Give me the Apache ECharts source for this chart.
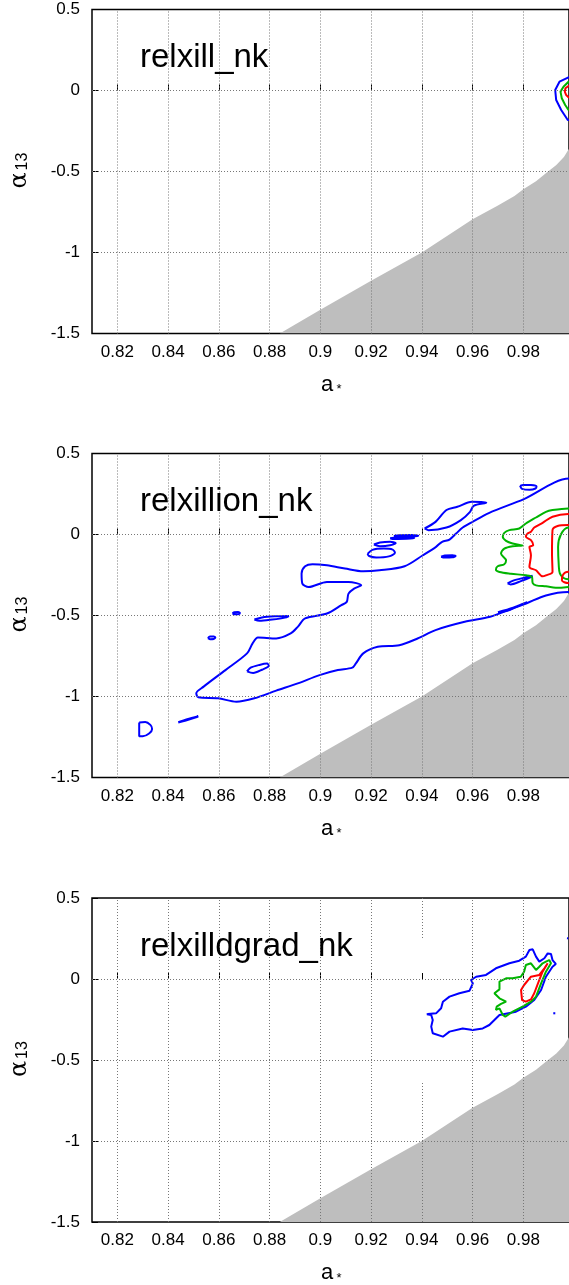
<!DOCTYPE html>
<html><head><meta charset="utf-8">
<script src="https://cdn.jsdelivr.net/npm/echarts@6/dist/echarts.min.js"></script>
<style>html,body{margin:0;padding:0;background:#fff}#c{width:569px;height:1285px}</style>
</head><body><div id="c"></div>
<script>
// ---------- data ----------
const xTicks = [0.82,0.84,0.86,0.88,0.90,0.92,0.94,0.96,0.98];
const yTicks = [-1.5,-1,-0.5,0,0.5];
const yGrid = [-1,-0.5,0];
const panelNames = ['relxill_nk','relxillion_nk','relxilldgrad_nk'];
// excluded region boundary (a*, alpha13)
const boundary = [[0.884,-1.5],[0.90,-1.354],[0.92,-1.175],[0.94,-1.0],[0.96,-0.794],[0.97,-0.71],[0.9765,-0.652],[0.98,-0.61],[0.985,-0.56],[0.989,-0.509],[0.993,-0.46],[0.996,-0.41],[0.998,-0.36]];
// in the third panel the 0.94 grid line is interrupted between these alpha13 values
const p3GridGap = {x: 0.94, from: 0.253, to: -0.642};

// panel 1 contours
const p1Blue  = [[1.003,0.0815],[0.99780,0.0815],[0.99425,0.0543],[0.99256,0.003],[0.99295,-0.059],[0.99492,-0.120],[0.99752,-0.182],[1.003,-0.182]];
const p1Green = [[1.003,0.054],[0.9978,0.054],[0.99583,0.0235],[0.99465,-0.007],[0.99516,-0.048],[0.99650,-0.0895],[0.9978,-0.120],[1.003,-0.12]];
const p1Red   = [[1.003,0.028],[0.9978,0.028],[0.99661,0.0135],[0.99634,-0.007],[0.99689,-0.028],[0.9978,-0.042],[1.003,-0.042]];

// panel 2 contours
const p2Band = [[1.003,0.345],[0.998,0.345],[0.980,0.217],[0.9666,0.134],[0.960,0.0785],[0.9561,0.043],[0.9535,0.006],[0.9509,-0.031],[0.948,-0.045],[0.9456,-0.076],[0.9404,-0.128],[0.9332,-0.196],[0.9233,-0.221],[0.9169,-0.227],[0.9097,-0.210],[0.9026,-0.190],[0.8969,-0.183],[0.894,-0.196],[0.8926,-0.241],[0.8929,-0.303],[0.8954,-0.324],[0.9026,-0.293],[0.9111,-0.293],[0.9161,-0.313],[0.9133,-0.334],[0.9111,-0.365],[0.9104,-0.416],[0.9083,-0.436],[0.9026,-0.488],[0.894,-0.518],[0.8911,-0.570],[0.8883,-0.611],[0.8826,-0.642],[0.8754,-0.636],[0.8733,-0.672],[0.8711,-0.734],[0.8626,-0.837],[0.854,-0.939],[0.8511,-0.980],[0.8519,-1.005],[0.8597,-1.011],[0.8669,-1.032],[0.874,-1.011],[0.8826,-0.964],[0.8911,-0.919],[0.8997,-0.868],[0.9069,-0.837],[0.9126,-0.822],[0.914,-0.796],[0.9169,-0.734],[0.9226,-0.693],[0.9311,-0.683],[0.9383,-0.642],[0.9454,-0.590],[0.9569,-0.539],[0.9669,-0.508],[0.974,-0.467],[0.9811,-0.426],[0.9889,-0.376],[0.9977,-0.355],[1.003,-0.355]];
const p2Isl1 = [[0.9787,0.300],[0.9800,0.306],[0.9830,0.305],[0.9852,0.296],[0.9848,0.284],[0.9825,0.276],[0.9795,0.282],[0.9787,0.300]];
const p2Isl2 = [[0.9411,0.037],[0.9454,0.078],[0.9497,0.151],[0.954,0.171],[0.9597,0.202],[0.9654,0.196],[0.9604,0.177],[0.959,0.140],[0.9554,0.089],[0.9497,0.043],[0.9426,0.027],[0.9411,0.037]];
const p2IslA1 = [[0.929,-0.009],[0.931,-0.004],[0.936,-0.003],[0.9386,-0.008],[0.936,-0.013],[0.931,-0.014],[0.929,-0.009]];
const p2IslA2 = [[0.9275,-0.023],[0.930,-0.018],[0.935,-0.017],[0.937,-0.022],[0.934,-0.027],[0.929,-0.028],[0.9275,-0.023]];
const p2IslB = [[0.9211,-0.062],[0.9235,-0.050],[0.9275,-0.045],[0.9297,-0.052],[0.9275,-0.066],[0.9235,-0.072],[0.9211,-0.062]];
const p2IslC = [[0.9186,-0.120],[0.9205,-0.095],[0.925,-0.087],[0.9285,-0.093],[0.9294,-0.112],[0.927,-0.135],[0.922,-0.142],[0.9192,-0.133],[0.9186,-0.120]];
const p2IslD = [[0.9476,-0.137],[0.949,-0.129],[0.952,-0.128],[0.9533,-0.133],[0.952,-0.141],[0.949,-0.142],[0.9476,-0.137]];
const p2IslE = [[0.9738,-0.302],[0.9760,-0.285],[0.9800,-0.268],[0.9836,-0.255],[0.9828,-0.265],[0.9790,-0.288],[0.9750,-0.308],[0.9738,-0.302]];
const p2IslF = [[0.8654,-0.487],[0.866,-0.480],[0.8676,-0.479],[0.8683,-0.485],[0.8676,-0.492],[0.866,-0.493],[0.8654,-0.487]];
const p2IslG = [[0.874,-0.525],[0.877,-0.512],[0.882,-0.505],[0.8876,-0.503],[0.886,-0.513],[0.881,-0.525],[0.876,-0.533],[0.874,-0.525]];
const p2IslH = [[0.8557,-0.640],[0.8565,-0.630],[0.858,-0.630],[0.8586,-0.636],[0.858,-0.645],[0.8565,-0.646],[0.8557,-0.640]];
const p2IslI = [[0.8711,-0.845],[0.8725,-0.822],[0.876,-0.805],[0.879,-0.797],[0.8797,-0.810],[0.877,-0.835],[0.8735,-0.855],[0.8711,-0.845]];
const p2IslJ = [[0.8286,-1.160],[0.8310,-1.157],[0.8330,-1.175],[0.8337,-1.200],[0.8325,-1.228],[0.8300,-1.245],[0.8286,-1.245],[0.8286,-1.160]];
const p2IslK = [[0.844,-1.158],[0.8475,-1.140],[0.8519,-1.122],[0.851,-1.128],[0.8470,-1.148],[0.844,-1.160]];
const p2IslL = [[0.970,-0.480],[0.976,-0.452],[0.9815,-0.418],[0.978,-0.440],[0.974,-0.470],[0.970,-0.480]];
const p2Green = [[1.003,0.161],[0.9977,0.161],[0.9915,0.151],[0.9889,0.140],[0.985,0.105],[0.981,0.068],[0.9784,0.037],[0.9745,0.027],[0.9725,0.010],[0.9719,-0.014],[0.9732,-0.039],[0.9758,-0.056],[0.9797,-0.068],[0.9758,-0.072],[0.9725,-0.087],[0.9712,-0.118],[0.9732,-0.159],[0.9725,-0.184],[0.9699,-0.196],[0.9692,-0.217],[0.9706,-0.231],[0.9751,-0.242],[0.981,-0.252],[0.9834,-0.262],[0.9837,-0.300],[0.985,-0.314],[0.9889,-0.320],[0.9942,-0.329],[0.9977,-0.324],[1.003,-0.324]];
const p2Red = [[1.003,0.126],[0.9977,0.126],[0.9915,0.110],[0.9876,0.072],[0.9843,0.043],[0.983,0.017],[0.9817,0.006],[0.981,-0.014],[0.983,-0.035],[0.9839,-0.066],[0.9824,-0.076],[0.983,-0.128],[0.9824,-0.200],[0.985,-0.221],[0.9876,-0.258],[0.9889,-0.252],[0.9915,-0.231],[0.9913,-0.118],[0.9915,0.027],[0.9935,0.052],[0.9977,0.058],[1.003,0.058]];
const p2GreenIn = [[1.003,0.043],[0.9977,0.043],[0.9948,0.0],[0.9937,-0.077],[0.9940,-0.200],[0.9944,-0.240],[0.9957,-0.267],[0.9977,-0.277],[1.003,-0.277]];
const p2RedIn = [[1.003,-0.230],[0.9977,-0.230],[0.9957,-0.247],[0.9952,-0.283],[0.9977,-0.300],[1.003,-0.300]];

// panel 3 contours
const p3Blue = [[0.9424,-0.216],[0.9456,-0.212],[0.9476,-0.181],[0.9483,-0.140],[0.9509,-0.109],[0.9548,-0.088],[0.9588,-0.072],[0.9601,-0.027],[0.9594,-0.006],[0.9614,0.014],[0.9653,0.025],[0.9692,0.066],[0.9745,0.097],[0.9784,0.113],[0.981,0.138],[0.9824,0.179],[0.9837,0.183],[0.985,0.138],[0.9863,0.107],[0.9883,0.128],[0.9896,0.158],[0.9909,0.154],[0.9915,0.117],[0.9928,0.093],[0.9915,0.076],[0.9889,0.014],[0.987,-0.068],[0.9843,-0.130],[0.981,-0.171],[0.9771,-0.202],[0.9706,-0.222],[0.9666,-0.284],[0.964,-0.305],[0.9601,-0.315],[0.9561,-0.305],[0.9509,-0.325],[0.9483,-0.356],[0.9443,-0.335],[0.9437,-0.294],[0.9443,-0.253],[0.9437,-0.222],[0.942,-0.218],[0.9424,-0.216]];
const p3Green = [[0.9889,0.107],[0.9902,0.117],[0.9909,0.097],[0.9889,0.045],[0.987,-0.027],[0.985,-0.109],[0.983,-0.140],[0.9797,-0.171],[0.9758,-0.202],[0.9729,-0.232],[0.9719,-0.222],[0.9706,-0.181],[0.9692,-0.191],[0.9695,-0.171],[0.9712,-0.154],[0.9732,-0.140],[0.9706,-0.119],[0.9686,-0.088],[0.9706,-0.064],[0.9706,-0.016],[0.9732,0.004],[0.9758,0.004],[0.979,0.014],[0.9803,0.045],[0.981,0.086],[0.983,0.097],[0.985,0.056],[0.9863,0.076],[0.9876,0.097],[0.9889,0.107]];
const p3Red = [[0.9896,0.097],[0.9876,0.045],[0.9863,-0.006],[0.9843,-0.088],[0.983,-0.126],[0.981,-0.140],[0.9795,-0.130],[0.9791,-0.068],[0.9803,-0.037],[0.983,0.014],[0.9863,0.025],[0.9883,0.066],[0.9896,0.097]];
const p3Dot1 = [[0.9972,0.252],[0.9977,0.251]];
const p3Dot2 = [[0.9922,-0.205],[0.9922,-0.218]];

const contours = [
  [[p1Blue,'blue'],[p1Green,'green'],[p1Red,'red']],
  [[p2Band,'blue'],[p2Isl1,'blue'],[p2Isl2,'blue'],[p2IslA1,'blue'],[p2IslA2,'blue'],[p2IslB,'blue'],[p2IslC,'blue'],[p2IslD,'blue'],[p2IslE,'blue'],[p2IslF,'blue'],[p2IslG,'blue'],[p2IslH,'blue'],[p2IslI,'blue'],[p2IslJ,'blue'],[p2IslK,'blue'],[p2IslL,'blue'],[p2Green,'green'],[p2Red,'red'],[p2GreenIn,'green'],[p2RedIn,'red']],
  [[p3Blue,'blue'],[p3Green,'green'],[p3Red,'red'],[p3Dot1,'blue'],[p3Dot2,'blue']]
];
const smoothing = [0, 0.3, 0];

// ---------- layout / style ----------
const COLORS = {blue:'#0000ff', green:'#00b400', red:'#ff0000'};
const FONT = 'Liberation Sans, Arial, sans-serif';
const tops = [9.5, 453.5, 898];
const H = 324, LEFT = 92, W = 478;

const grid = [], xAxis = [], yAxis = [], series = [], graphic = [], title = [];
tops.forEach((t, i) => {
  grid.push({left: LEFT, top: t, width: W, height: H, show: true, borderColor: '#000', borderWidth: 1.5, backgroundColor: 'transparent'});
  xAxis.push({type: 'value', gridIndex: i, min: 0.81, max: 0.998,
    axisLine: {show: false}, splitLine: {show: false},
    axisTick: {show: true, inside: true, length: 6, customValues: xTicks, lineStyle: {color: '#000'}},
    axisLabel: {customValues: xTicks, margin: 10, fontSize: 17, color: '#000', fontFamily: FONT, formatter: v => String(+(+v).toFixed(2))}});
  yAxis.push({type: 'value', gridIndex: i, min: yTicks[0], max: yTicks[yTicks.length - 1], interval: 0.5,
    axisLine: {show: false},
    splitLine: {show: false},
    axisTick: {show: true, inside: true, length: 6, lineStyle: {color: '#000'}},
    axisLabel: {margin: 12, fontSize: 17, color: '#000', fontFamily: FONT}});
  // grid lines
  let gl = [];
  xTicks.forEach(v => {
    if (i === 2 && v === p3GridGap.x) {
      gl.push([{coord: [v, 0.5]}, {coord: [v, p3GridGap.from]}]);
      gl.push([{coord: [v, p3GridGap.to]}, {coord: [v, -1.5]}]);
    } else gl.push({xAxis: v});
  });
  yGrid.forEach(v => gl.push({yAxis: v}));
  series.push({type: 'line', xAxisIndex: i, yAxisIndex: i, data: [], silent: true, z: 1,
    markLine: {silent: true, symbol: ['none','none'], label: {show: false}, animation: false,
      lineStyle: {color: '#777', type: [1, 2], width: 1}, data: gl}});
  // excluded region
  series.push({type: 'line', xAxisIndex: i, yAxisIndex: i, data: boundary, showSymbol: false, silent: true, z: 2,
    lineStyle: {width: 0}, areaStyle: {color: '#bebebe', opacity: 1, origin: 'start'}});
  contours[i].forEach(([d, c]) => {
    series.push({type: 'line', xAxisIndex: i, yAxisIndex: i, data: d, showSymbol: false, silent: true, z: 3,
      smooth: smoothing[i], lineStyle: {color: COLORS[c], width: 2}});
  });
  title.push({text: panelNames[i], left: 140, top: t + 32, padding: 0,
    textStyle: {fontSize: 33, fontWeight: 'normal', color: '#000', fontFamily: FONT}});
  const mid = t + H / 2;
  graphic.push({type: 'text', x: 20, y: mid + 9, rotation: Math.PI / 2,
    style: {text: 'α', fontSize: 24, fill: '#000', fontFamily: 'DejaVu Serif, serif', align: 'center', verticalAlign: 'middle'}});
  graphic.push({type: 'text', x: 23, y: mid - 10, rotation: Math.PI / 2,
    style: {text: '13', fontSize: 16, fill: '#000', fontFamily: FONT, align: 'center', verticalAlign: 'middle'}});
  graphic.push({type: 'text', x: 327, y: t + H + 51, 
    style: {text: 'a', fontSize: 22, fill: '#000', fontFamily: FONT, align: 'center', verticalAlign: 'middle'}});
  graphic.push({type: 'text', x: 339, y: t + H + 56,
    style: {text: '*', fontSize: 13, fill: '#000', fontFamily: FONT, align: 'center', verticalAlign: 'middle'}});
});

const chart = echarts.init(document.getElementById('c'), null, {renderer: 'canvas'});
chart.setOption({animation: false, backgroundColor: '#fff', title, grid, xAxis, yAxis, series, graphic});
</script>
</body></html>
